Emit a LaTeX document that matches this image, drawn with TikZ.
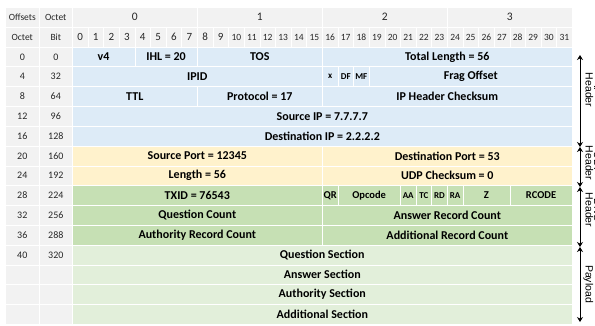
\documentclass[tikz,border=0pt]{standalone}
\usepackage{fontspec}
\setmainfont{Carlito}
\newfontfamily\labelfont{Liberation Sans}
\usetikzlibrary{arrows.meta}
\definecolor{hdrgray}{HTML}{F2F2F2}
\definecolor{ipblue}{HTML}{DDEBF7}
\definecolor{udpyellow}{HTML}{FFF2CC}
\definecolor{dnsgreen}{HTML}{C6E0B4}
\definecolor{paygreen}{HTML}{E2EFDA}
\definecolor{hdrtext}{HTML}{262626}

% one field of the packet: name, first bit, width in bits, row, style, text
\newcommand\fieldcell[6]{%
  \node[cell,#5,minimum width={#3*15.625pt}] (#1) at ({72+#2*15.625},{7+#4*19.8125}) {#6};}

\begin{document}
\begin{tikzpicture}[x=1pt,y=-1pt,
  cell/.style={anchor=north west,inner sep=0pt,minimum height=19.8125pt,
    draw=white,line width=0.6pt},
  grayc/.style={fill=hdrgray,text=hdrtext,font=\fontsize{10}{12}\selectfont},
  ip/.style={fill=ipblue,font=\bfseries\fontsize{12}{14}\selectfont},
  udp/.style={fill=udpyellow,font=\bfseries\fontsize{12}{14}\selectfont},
  dns/.style={fill=dnsgreen,font=\bfseries\fontsize{12}{14}\selectfont},
  pay/.style={fill=paygreen,font=\bfseries\fontsize{12}{14}\selectfont},
  flagfont/.style={font=\bfseries\fontsize{9}{10}\selectfont},
  codefont/.style={font=\bfseries\fontsize{10.5}{12}\selectfont},
  span/.style={{Stealth[length=5pt,width=6pt]}-{Stealth[length=5pt,width=6pt]},
    line width=1pt},
  sidelabel/.style={rotate=-90,inner sep=0pt,anchor=base,
    font=\labelfont\fontsize{10.5}{12}\selectfont}
]
\useasboundingbox (0,0) rectangle (595,325);

% column headings
\node[cell,grayc,minimum width=34pt,font=\fontsize{9.5}{11}\selectfont] (hOffsets) at (5,7) {Offsets};
\node[cell,grayc,minimum width=33pt,font=\fontsize{9.5}{11}\selectfont] (hOctetA) at (39,7) {Octet};
\node[cell,grayc,minimum width=34pt,font=\fontsize{9.5}{11}\selectfont] (hOctetB) at (5,26.8125) {Octet};
\node[cell,grayc,minimum width=33pt,font=\fontsize{9.5}{11}\selectfont] (hBit) at (39,26.8125) {Bit};
\foreach \k in {0,...,3}
  \node[cell,grayc,minimum width=125pt,font=\fontsize{11.5}{14}\selectfont] (oct\k) at ({72+\k*125},7) {\k};
\foreach \b in {0,...,9}
  \node[cell,grayc,minimum width=15.625pt,font=\fontsize{11}{12}\selectfont] (bit\b) at ({72+\b*15.625},26.8125) {\b};
\foreach \b in {10,...,31}
  \node[cell,grayc,minimum width=15.625pt,font=\fontsize{9.5}{12}\selectfont] (bit\b) at ({72+\b*15.625},26.8125) {\b};

% offsets in octets and bits
\foreach \r/\o/\bb in {2/0/0,3/4/32,4/8/64,5/12/96,6/16/128,7/20/160,8/24/192,
    9/28/224,10/32/256,11/36/288,12/40/320,13//,14//,15//}{
  \node[cell,grayc,minimum width=34pt] (offO\r) at (5,{7+\r*19.8125}) {\o};
  \node[cell,grayc,minimum width=33pt] (offB\r) at (39,{7+\r*19.8125}) {\bb};
}

% IP header
\fieldcell{ver}{0}{4}{2}{ip}{v4}
\fieldcell{ihl}{4}{4}{2}{ip}{IHL = 20}
\fieldcell{tos}{8}{8}{2}{ip}{TOS}
\fieldcell{totlen}{16}{16}{2}{ip}{Total Length = 56}
\fieldcell{ipid}{0}{16}{3}{ip}{IPID}
\fieldcell{fx}{16}{1}{3}{ip,flagfont}{x}
\fieldcell{fdf}{17}{1}{3}{ip,flagfont}{DF}
\fieldcell{fmf}{18}{1}{3}{ip,flagfont}{MF}
\fieldcell{frag}{19}{13}{3}{ip}{Frag Offset}
\fieldcell{ttl}{0}{8}{4}{ip}{TTL}
\fieldcell{proto}{8}{8}{4}{ip}{Protocol = 17}
\fieldcell{ipcsum}{16}{16}{4}{ip}{IP Header Checksum}
\fieldcell{srcip}{0}{32}{5}{ip}{Source IP = 7.7.7.7}
\fieldcell{dstip}{0}{32}{6}{ip}{Destination IP = 2.2.2.2}

% UDP header
\fieldcell{sport}{0}{16}{7}{udp}{Source Port = 12345}
\fieldcell{dport}{16}{16}{7}{udp}{Destination Port = 53}
\fieldcell{ulen}{0}{16}{8}{udp}{Length = 56}
\fieldcell{ucsum}{16}{16}{8}{udp}{UDP Checksum = 0}

% DNS header
\fieldcell{txid}{0}{16}{9}{dns}{TXID = 76543}
\fieldcell{qr}{16}{1}{9}{dns,codefont}{QR}
\fieldcell{opcode}{17}{4}{9}{dns,codefont}{Opcode}
\fieldcell{aa}{21}{1}{9}{dns,flagfont}{AA}
\fieldcell{tc}{22}{1}{9}{dns,flagfont}{TC}
\fieldcell{rd}{23}{1}{9}{dns,flagfont}{RD}
\fieldcell{ra}{24}{1}{9}{dns,flagfont}{RA}
\fieldcell{zbits}{25}{3}{9}{dns,codefont}{Z}
\fieldcell{rcode}{28}{4}{9}{dns,codefont}{RCODE}
\fieldcell{qdcount}{0}{16}{10}{dns}{Question Count}
\fieldcell{ancount}{16}{16}{10}{dns}{Answer Record Count}
\fieldcell{nscount}{0}{16}{11}{dns}{Authority Record Count}
\fieldcell{arcount}{16}{16}{11}{dns}{Additional Record Count}

% DNS payload
\fieldcell{qsec}{0}{32}{12}{pay}{Question Section}
\fieldcell{ansec}{0}{32}{13}{pay}{Answer Section}
\fieldcell{nssec}{0}{32}{14}{pay}{Authority Section}
\fieldcell{arsec}{0}{32}{15}{pay}{Additional Section}

% extents of the layers
\coordinate (ipTop) at (580,55);
\coordinate (ipEnd) at (580,147);
\coordinate (udpEnd) at (580,187);
\coordinate (dnsEnd) at (580,247);
\coordinate (payEnd) at (580,322);
\draw[span] (ipTop) -- (ipEnd);
\draw[span] (ipEnd) -- (udpEnd);
\draw[span] (udpEnd) -- (dnsEnd);
\draw[span] (dnsEnd) -- (payEnd);

% layer names, written downwards; their first words run off the right edge
\node[sidelabel] (ipName) at (594,90) {IP};
\node[sidelabel] (ipLabel) at (585.5,90) {Header};
\node[sidelabel] (udpName) at (594,163) {UDP};
\node[sidelabel] (udpLabel) at (585.5,163) {Header};
\node[sidelabel] (dnsName) at (594,210) {DNS};
\node[sidelabel] (dnsLabel) at (585.5,210) {Header};
\node[sidelabel] (payLabel) at (585.5,284) {Payload};
\end{tikzpicture}
\end{document}
